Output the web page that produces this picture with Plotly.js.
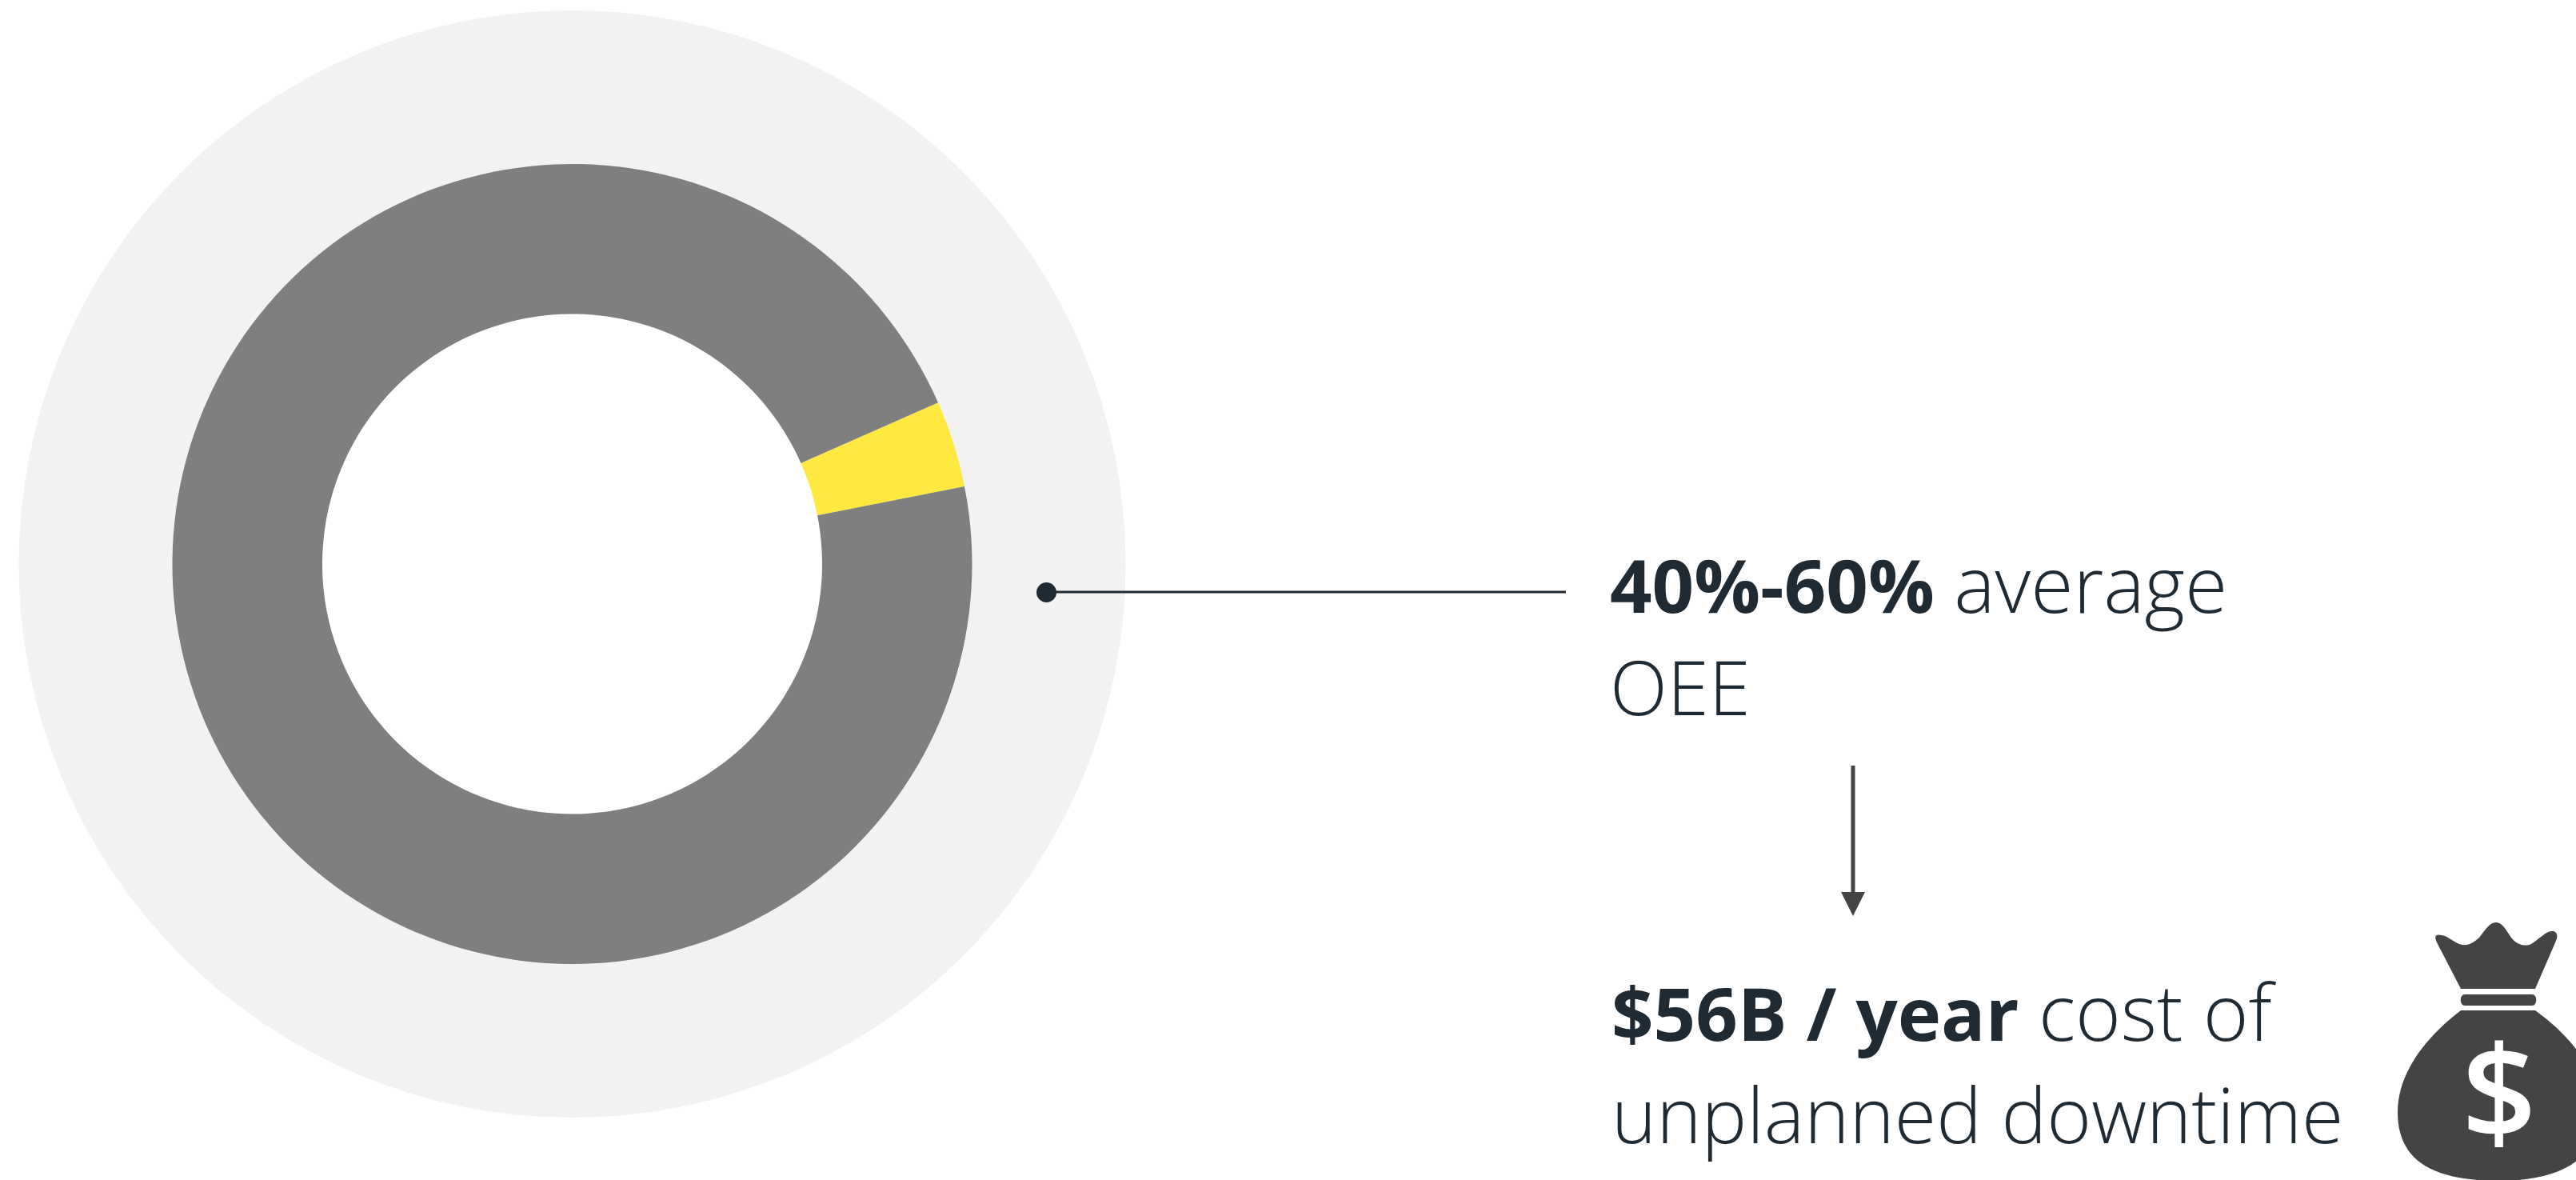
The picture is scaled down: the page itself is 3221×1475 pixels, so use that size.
<!DOCTYPE html>
<html><head><meta charset="utf-8">
<script src="https://cdn.plot.ly/plotly-3.0.0.min.js"></script>
<style>html,body{margin:0;padding:0;background:#fff;overflow:hidden}#c{width:3221px;height:1475px}</style>
</head><body><div id="c"></div>
<script>
const W = 3221, H = 1475;
const ringLabels = ['OEE share', 'Remainder'];
const ringValues = [3.5, 96.5];
const ringColors = ['#FFE83F', '#7F7F7F'];
const backdropValues = [1];
const boldParts = ['40%-60%', '', '$56B / year', ''];
const lightParts = ['average', 'OEE', 'cost of', 'unplanned downtime'];
const lineX = [2012, 2012, 2014, 2014];
const lineBase = [767, 895, 1302, 1430];
const lightSizes = [97, 94, 97, 95.3];
const boldSize = 92;
const px = x => x / W;
const py = y => 1 - y / H;
function dom(cx, cy, r) {
  return {x: [px(cx - r), px(cx + r)], y: [py(cy + r), py(cy - r)]};
}
const cx = 715.5, cy = 705;
const data = [
  {type: 'pie', values: backdropValues, labels: ['Backdrop'], marker: {colors: ['#F2F2F2'], line: {width: 0}},
   hole: 0.71, domain: dom(cx, cy, 692), textinfo: 'none', hoverinfo: 'skip', showlegend: false, sort: false},
  {type: 'pie', values: ringValues, labels: ringLabels, marker: {colors: ringColors, line: {width: 0}},
   hole: 0.625, domain: dom(cx, cy, 500), rotation: 66.2, direction: 'clockwise', sort: false,
   textinfo: 'none', showlegend: false}
];
function pathOf(pts) {
  return pts.map(s => s.replace(/(-?[\d.]+),(-?[\d.]+)/g, (m, a, b) => px(+a) + ',' + py(+b))).join(' ');
}
const bag = pathOf([
  'M3053,1169 C3060,1170 3066,1176 3075,1180 C3085,1184 3093,1178 3100,1172',
  'C3108,1162 3113,1153 3121,1153 C3129,1153 3133,1162 3140,1172',
  'C3146,1180 3156,1184 3165,1180 C3175,1174 3182,1165 3190,1164',
  'C3197,1163 3199,1169 3196,1176 L3170,1236 L3077,1236 L3047,1178 C3043,1170 3046,1167 3053,1169 Z'
]);
const band = pathOf(['M3082,1243 L3166,1243 C3173,1243 3173,1257 3166,1257 L3082,1257 C3075,1257 3075,1243 3082,1243 Z']);
const body = pathOf([
  'M3077,1263 L3170,1263 C3210,1292 3250,1335 3250,1390 C3250,1450 3200,1476 3125,1476',
  'C3040,1476 2998,1450 2998,1390 C2998,1340 3035,1295 3077,1263 Z'
]);
const shapes = [
  {type: 'path', xref: 'paper', yref: 'paper', path: bag, fillcolor: '#444444', line: {width: 0}},
  {type: 'path', xref: 'paper', yref: 'paper', path: band, fillcolor: '#444444', line: {width: 0}},
  {type: 'path', xref: 'paper', yref: 'paper', path: body, fillcolor: '#444444', line: {width: 0}},
  {type: 'line', xref: 'paper', yref: 'paper', x0: px(1308), x1: px(1958), y0: py(740), y1: py(740), line: {color: '#1F2A33', width: 3}},
  {type: 'circle', xref: 'paper', yref: 'paper', x0: px(1296), x1: px(1321), y0: py(728), y1: py(753), fillcolor: '#1F2A33', line: {width: 0}},
  {type: 'line', xref: 'paper', yref: 'paper', x0: px(2317), x1: px(2317), y0: py(957), y1: py(1118), line: {color: '#444444', width: 5}},
  {type: 'path', xref: 'paper', yref: 'paper', path: pathOf(['M2302,1115 L2332,1115 L2317,1145 Z']), fillcolor: '#444444', line: {width: 0}}
];
const FS = 94;
const annotations = lightParts.map((t, i) => {
  const b = boldParts[i] ? `<span style="font-size:${boldSize}px"><b>${boldParts[i]}</b></span> ` : '';
  return {
    xref: 'paper', yref: 'paper', x: px(lineX[i]), y: py(lineBase[i] + 28), xanchor: 'left', yanchor: 'bottom', showarrow: false,
    align: 'left', text: `${b}<span style="font-size:${lightSizes[i]}px">${t}</span>`, borderpad: 0,
    font: {family: '"Open Sans", sans-serif', size: FS, color: '#1F2A33', weight: 300}
  };
});
annotations.push({xref: 'paper', yref: 'paper', x: px(3125), y: py(1361), xanchor: 'center', yanchor: 'middle', showarrow: false,
  text: '$', font: {family: '"Open Sans", sans-serif', size: 164, color: '#FFFFFF', weight: 600}});
Plotly.newPlot('c', data, {
  width: W, height: H, margin: {l: 0, r: 0, t: 0, b: 0}, paper_bgcolor: '#FFFFFF', plot_bgcolor: '#FFFFFF',
  showlegend: false, shapes, annotations
}, {displayModeBar: false, responsive: false});
</script></body></html>
